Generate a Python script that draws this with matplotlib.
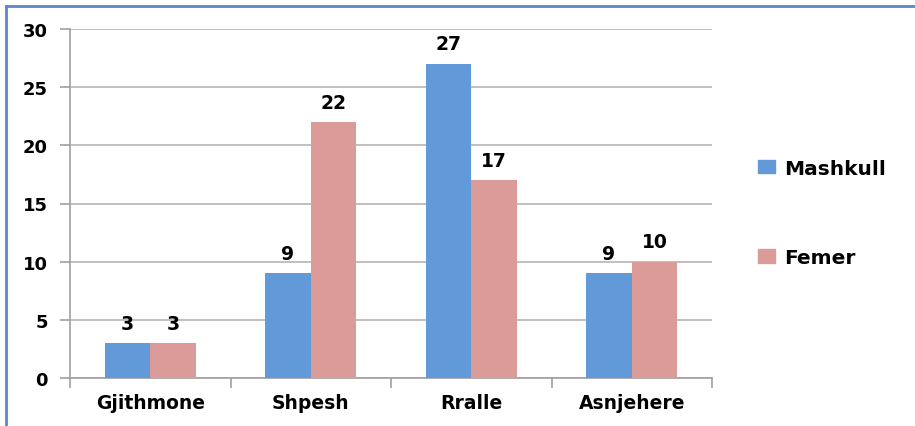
import numpy as np
import matplotlib as mpl
mpl.use('Agg')
import matplotlib.pyplot as plt
from matplotlib.patches import Patch

categories = ['Gjithmone', 'Shpesh', 'Rralle', 'Asnjehere']
mashkull = [3, 9, 27, 9]
femer = [3, 22, 17, 10]
series_names = ['Mashkull', 'Femer']
colors = ['#6199D9', '#DA9B99']

fig = plt.figure(figsize=(9.15, 4.27), dpi=100)
ax = fig.add_axes([70/915, 48/427, (712-70)/915, (379-30)/427])

x = np.arange(len(categories))
w = 0.284
ax.bar(x - w/2, mashkull, w, color=colors[0], zorder=3)
ax.bar(x + w/2, femer, w, color=colors[1], zorder=3)

for i in range(len(categories)):
	ax.text(x[i] - w/2, mashkull[i] + 0.9, str(mashkull[i]), ha='center', va='bottom',
		fontsize=13.5, fontweight='bold')
	ax.text(x[i] + w/2, femer[i] + 0.9, str(femer[i]), ha='center', va='bottom',
		fontsize=13.5, fontweight='bold')

ax.set_xlim(-0.5, len(categories) - 0.5)
ax.set_ylim(0, 30)
ax.set_yticks(range(0, 31, 5))
ax.set_xticks(x)
ax.set_xticklabels(categories, fontsize=13.5, fontweight='bold')
ax.set_xticks(np.arange(-0.5, len(categories), 1.0), minor=True)
ax.tick_params(axis='x', which='major', length=0, pad=11)
ax.tick_params(axis='x', which='minor', length=7, color='#A0A0A0', width=1.2)
ax.tick_params(axis='y', length=7, color='#A0A0A0', width=1.2, pad=9)
for lab in ax.get_yticklabels():
	lab.set_fontweight('bold')
	lab.set_fontsize(13)
ax.yaxis.grid(True, color='#B5B5B5', lw=1.2, zorder=0)
for s in ['top', 'right']:
	ax.spines[s].set_visible(False)
for s in ['left', 'bottom']:
	ax.spines[s].set_color('#A0A0A0')
	ax.spines[s].set_linewidth(1.2)

handles = [Patch(color=c) for c in colors]
fig.legend(handles, series_names, loc='center left', bbox_to_anchor=(740/915, 1 - 214/427),
	frameon=False, prop={'weight': 'bold', 'size': 14.5}, labelspacing=3.5,
	handlelength=0.85, handleheight=0.65, handletextpad=0.45)

# border on left and top
fig.add_artist(plt.Line2D([6/915, 6/915], [0, 1 - 7/427], color='#5B87C5', lw=2))
fig.add_artist(plt.Line2D([6/915, 1], [1 - 7/427, 1 - 7/427], color='#5B87C5', lw=2))

fig.savefig('out.png')
